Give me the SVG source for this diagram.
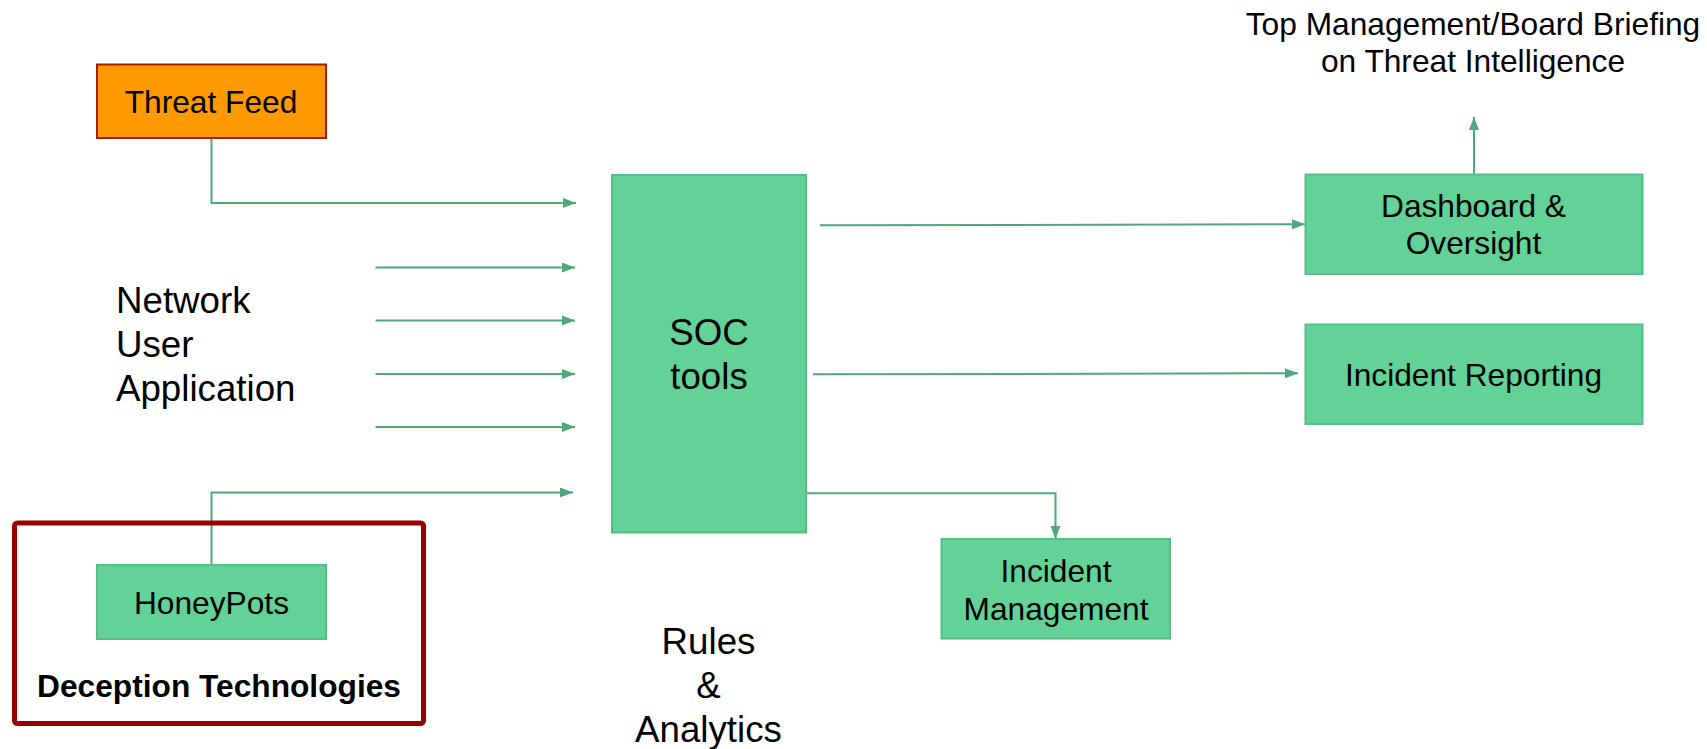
<svg xmlns="http://www.w3.org/2000/svg" width="1707" height="749" viewBox="0 0 1707 749">
<style>
text{font-family:"Liberation Sans",Arial,sans-serif;fill:#000;}
.t{font-size:31.7px;text-anchor:middle;}
.b{font-size:36.7px;}
.g{fill:#63d297;stroke:#57bb8a;stroke-width:2;}
.c{fill:none;stroke:#4fa77a;stroke-width:2;marker-end:url(#ah);}
</style>
<defs>
<marker id="ah" markerUnits="userSpaceOnUse" markerWidth="14" markerHeight="10" refX="13" refY="5" orient="auto">
<path d="M0,0 L13,5 L0,10 Z" fill="#4fa77a"/>
</marker>
</defs>
<rect width="1707" height="749" fill="#fff"/>
<g id="connectors">
<path class="c" d="M211.5,138 V203 H576"/>
<path class="c" d="M375.5,267.5 H575"/>
<path class="c" d="M375.5,320.5 H575"/>
<path class="c" d="M375.5,374 H575"/>
<path class="c" d="M375.5,427 H575"/>
<path class="c" d="M211.5,565 V492.5 H573"/>
<path class="c" d="M820,225.3 L1305,224.3"/>
<path class="c" d="M813,374.3 L1298,373.3"/>
<path class="c" d="M806,493.3 H1055.5 V539"/>
<path class="c" d="M1474,174 V117"/>
</g>
<g id="threat-feed">
<rect x="97" y="64.5" width="229" height="73.5" fill="#ff9900" stroke="#a61c00" stroke-width="2"/>
<text class="t" x="211" y="113">Threat Feed</text>
</g>
<g id="sources-label">
<text class="b" x="116" y="313">Network</text>
<text class="b" x="116" y="357">User</text>
<text class="b" x="116" y="401">Application</text>
</g>
<g id="deception-technologies">
<rect x="14.5" y="523" width="409" height="200.5" rx="3" fill="none" stroke="#990000" stroke-width="5"/>
<text class="t" x="219" y="697" font-weight="bold">Deception Technologies</text>
</g>
<g id="honeypots">
<rect class="g" x="97" y="565" width="229" height="74"/>
<text class="t" x="211.5" y="614">HoneyPots</text>
</g>
<g id="soc-tools">
<rect class="g" x="612" y="175" width="194" height="357.5"/>
<text class="b" x="709" y="345" text-anchor="middle">SOC</text>
<text class="b" x="709" y="389" text-anchor="middle">tools</text>
</g>
<g id="rules-analytics">
<text class="b" x="708.5" y="654" text-anchor="middle">Rules</text>
<text class="b" x="708.5" y="698" text-anchor="middle">&amp;</text>
<text class="b" x="708.5" y="742" text-anchor="middle">Analytics</text>
</g>
<g id="incident-management">
<rect class="g" x="941.5" y="539" width="228.5" height="99.5"/>
<text class="t" x="1056" y="582">Incident</text>
<text class="t" x="1056" y="620">Management</text>
</g>
<g id="dashboard-oversight">
<rect class="g" x="1305.5" y="174.5" width="337" height="99.5"/>
<text class="t" x="1473.5" y="216.5">Dashboard &amp;</text>
<text class="t" x="1473.5" y="254">Oversight</text>
</g>
<g id="incident-reporting">
<rect class="g" x="1305.5" y="324.5" width="337" height="99.5"/>
<text class="t" x="1473.5" y="385.5">Incident Reporting</text>
</g>
<g id="board-briefing">
<text class="t" x="1473" y="35">Top Management/Board Briefing</text>
<text class="t" x="1473" y="72">on Threat Intelligence</text>
</g>
</svg>
